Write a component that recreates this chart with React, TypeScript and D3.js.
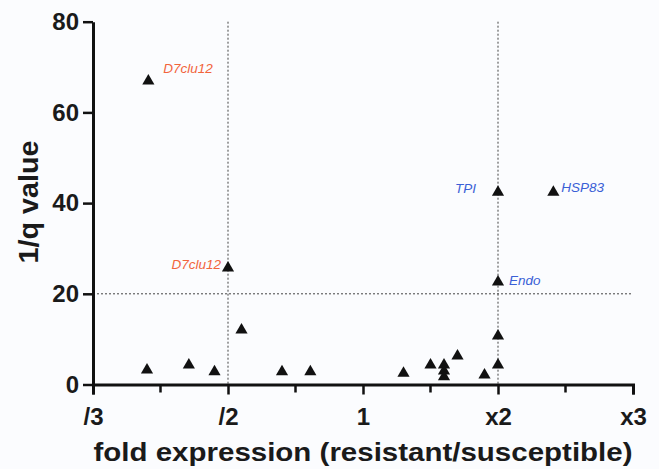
import { useRef, useEffect } from "react";
import * as d3 from "d3";

// x is stored as fold position on the axis: -2 = /3, -1 = /2, 0 = 1, 1 = x2, 2 = x3
const foldPos = [
  -1.59, -1.0, -0.9, -1.6, -1.29, -1.1, -0.6, -0.39, 0.3, 0.5, 0.6, 0.6, 0.6,
  0.7, 0.9, 1.0, 1.0, 1.0, 1.0, 1.41,
];
const invQ = [
  66.9, 25.7, 12.0, 3.2, 4.3, 2.8, 2.8, 2.8, 2.5, 4.3, 4.3, 3.0, 1.7, 6.3, 2.1,
  4.3, 10.7, 22.6, 42.4, 42.4,
];

// annotated genes (index into the arrays above)
const labelIndex = [0, 1, 18, 19, 17];
const labelText = ["D7clu12", "D7clu12", "TPI", "HSP83", "Endo"];
const labelGroup = ["down", "down", "up", "up", "up"];

const xTickVals = [-2, -1, 0, 1, 2];
const xTickLabels = ["/3", "/2", "1", "x2", "x3"];
const xMinorTicks = [-1.5, -0.5, 0.5, 1.5];
const yTickVals = [0, 20, 40, 60, 80];

function App() {
  const ref = useRef(null);

  useEffect(() => {
    const width = 659;
    const height = 469;
    const font = "Liberation Sans, Arial, sans-serif";
    const svg = d3.select(ref.current);
    svg.selectAll("*").remove();

    const x = d3.scaleLinear().domain([-2, 2]).range([93, 633]);
    const y = d3.scaleLinear().domain([0, 80]).range([384.5, 21.7]);

    svg
      .append("rect")
      .attr("width", width)
      .attr("height", height)
      .attr("fill", "#fbfcfe");

    // threshold lines
    const dash = svg.append("g").attr("stroke", "#444").attr("stroke-width", 1).attr("stroke-dasharray", "2,2");
    dash.append("line").attr("x1", x(-2)).attr("x2", x(2)).attr("y1", y(20)).attr("y2", y(20));
    [-1, 1].forEach((v) => {
      dash.append("line").attr("x1", x(v)).attr("x2", x(v)).attr("y1", y(80)).attr("y2", y(0));
    });

    // x axis
    const xAxis = d3
      .axisBottom(x)
      .tickValues(xTickVals)
      .tickSize(10)
      .tickFormat((d, i) => xTickLabels[i]);
    const gx = svg.append("g").attr("transform", `translate(0,${y(0)})`).call(xAxis);
    gx.select(".domain").attr("stroke-width", 3).attr("stroke", "#111");
    gx.selectAll(".tick line").attr("stroke-width", 2.5).attr("stroke", "#111");
    gx.selectAll(".tick text")
      .attr("y", 40)
      .attr("dy", null)
      .attr("font-family", font)
      .attr("font-weight", "bold")
      .attr("font-size", 24)
      .attr("fill", "#1a1a1a");
    gx.selectAll(".minor")
      .data(xMinorTicks)
      .join("line")
      .attr("x1", (d) => x(d))
      .attr("x2", (d) => x(d))
      .attr("y1", 0)
      .attr("y2", 8)
      .attr("stroke", "#111")
      .attr("stroke-width", 2.5);

    // y axis
    const yAxis = d3.axisLeft(y).tickValues(yTickVals).tickSize(10).tickSizeOuter(0);
    const gy = svg.append("g").attr("transform", `translate(${x(-2)},0)`).call(yAxis);
    gy.select(".domain").attr("stroke-width", 3).attr("stroke", "#111");
    gy.selectAll(".tick line").attr("stroke-width", 2.5).attr("stroke", "#111");
    gy.selectAll(".tick text")
      .attr("x", -14)
      .attr("font-family", font)
      .attr("font-weight", "bold")
      .attr("font-size", 24)
      .attr("fill", "#1a1a1a");

    // points
    const tri = d3.symbol().type(d3.symbolTriangle).size(64);
    svg
      .append("g")
      .selectAll("path")
      .data(foldPos)
      .join("path")
      .attr("d", tri)
      .attr("transform", (d, i) => `translate(${x(d)},${y(invQ[i])})`)
      .attr("fill", "#111");

    // gene labels
    const offsets = [
      [15, -8, "start"],
      [-7, 1, "end"],
      [-22, 1, "end"],
      [8, 0, "start"],
      [11, 3, "start"],
    ];
    svg
      .append("g")
      .selectAll("text")
      .data(labelIndex)
      .join("text")
      .attr("x", (d, i) => x(foldPos[d]) + offsets[i][0])
      .attr("y", (d, i) => y(invQ[d]) + offsets[i][1])
      .attr("text-anchor", (d, i) => offsets[i][2])
      .attr("font-family", font)
      .attr("font-style", "italic")
      .attr("font-size", 13.5)
      .attr("fill", (d, i) => (labelGroup[i] === "down" ? "#f2643c" : "#3a5fd6"))
      .text((d, i) => labelText[i]);

    // axis titles
    svg
      .append("text")
      .attr("x", 363)
      .attr("y", 461)
      .attr("text-anchor", "middle")
      .attr("font-family", font)
      .attr("font-weight", "bold")
      .attr("font-size", 26)
      .attr("textLength", 539)
      .attr("lengthAdjust", "spacingAndGlyphs")
      .attr("fill", "#1a1a1a")
      .text("fold expression (resistant/susceptible)");

    svg
      .append("text")
      .attr("transform", "translate(38,202) rotate(-90)")
      .attr("text-anchor", "middle")
      .attr("font-family", font)
      .attr("font-weight", "bold")
      .attr("font-size", 27)
      .attr("textLength", 123)
      .attr("lengthAdjust", "spacingAndGlyphs")
      .attr("fill", "#1a1a1a")
      .text("1/q value");
  }, []);

  return (
    <svg
      ref={ref}
      width={659}
      height={469}
      style={{ position: "absolute", left: 0, top: 0, display: "block" }}
    />
  );
}

export default App;
